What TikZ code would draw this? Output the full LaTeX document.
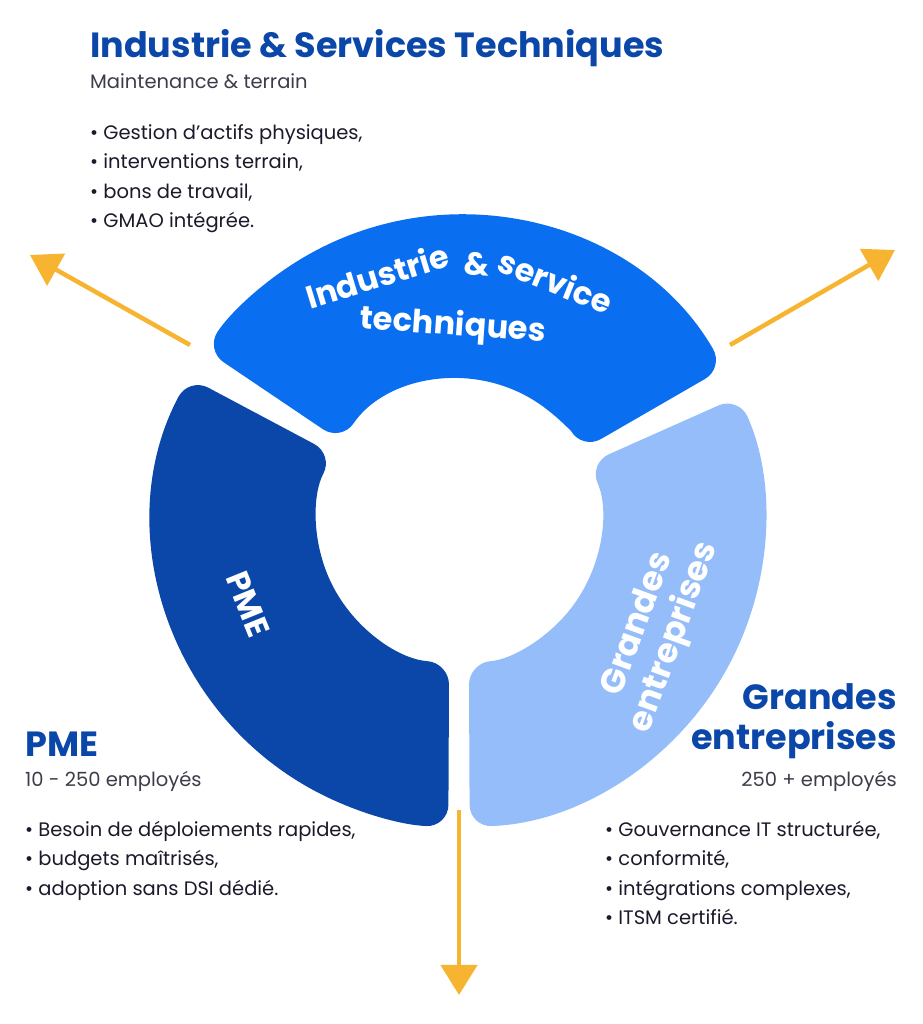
\documentclass[tikz,border=0pt]{standalone}
\usepackage{fontspec}
\setmainfont{Poppins}
\usetikzlibrary{arrows.meta,calc}
\definecolor{dblue}{HTML}{0A47A8}
\definecolor{mblue}{HTML}{0A6EF0}
\definecolor{lblue}{HTML}{94BDFA}
\definecolor{gold}{HTML}{F6B431}
\definecolor{txt}{HTML}{1A1A2A}
\begin{document}
\begin{tikzpicture}[x=1pt,y=1pt,
  seg/.style={rounded corners=22pt},
  title/.style={font=\fontsize{35}{40}\selectfont\bfseries, text=dblue, inner sep=0},
  sub/.style={font=\fontsize{19.5}{22}\selectfont, text=txt!85, inner sep=0},
  bul/.style={font=\fontsize{19.5}{29.5}\selectfont, text=txt, inner sep=0},
  ring/.style={font=\fontsize{32}{34}\selectfont\bfseries, text=white},
  word/.style={ring, anchor=base, inner sep=0},
  arr/.style={gold, line width=4.5pt, -{Triangle[width=36pt,length=30pt]}}]
\useasboundingbox (0,0) rectangle (922,1024);
\coordinate (C) at (459,503);
\def\Ro{306}\def\Ri{142}
% segments
\fill[mblue,seg] ($(C)+(30:\Ro)$) arc[start angle=30,end angle=146,radius=\Ro] -- ($(C)+(146:\Ri)$) arc[start angle=146,end angle=30,radius=\Ri] -- cycle;
\fill[dblue,seg] ($(C)+(152:\Ro)$) arc[start angle=152,end angle=268,radius=\Ro] -- ($(C)+(266:\Ri)$) arc[start angle=266,end angle=152,radius=\Ri] -- cycle;
\fill[lblue,seg] ($(C)+(-88:\Ro)$) arc[start angle=-88,end angle=24,radius=\Ro] -- ($(C)+(24:\Ri)$) arc[start angle=24,end angle=-86,radius=\Ri] -- cycle;
% ring texts
\node[word,rotate=17] (w1) at ($(C)+(108.5:246)$) {Industrie};
\node[word,rotate=-4] (w2) at ($(C)+(86:246)$) {\&};
\node[word,rotate=-22] (w3) at ($(C)+(68:246)$) {service};
\node[word,rotate=-4] (w4) at ($(C)+(92:186)$) {techniques};
\node[ring,rotate=-68] (pmering) at (248,420) {PME};
\node[ring,rotate=70,align=center,font=\fontsize{34}{39}\selectfont\bfseries] (geRing) at (657,393) {Grandes\\entreprises};
% arrows
\coordinate (a1s) at (190,679); \coordinate (a1e) at (30,769);
\coordinate (a2s) at (730,679); \coordinate (a2e) at (895,774);
\coordinate (a3s) at (459,214); \coordinate (a3e) at (459,29);
\draw[arr] (a1s) -- (a1e);
\draw[arr] (a2s) -- (a2e);
\draw[arr] (a3s) -- (a3e);
% top texts
\node[title,anchor=base west] (t1) at (90,966) {Industrie \& Services Techniques};
\node[sub,anchor=base west] (s1) at (90,935) {Maintenance \& terrain};
\node[bul,anchor=north west,align=left] (b1) at (90,900) {• Gestion d’actifs physiques,\\• interventions terrain,\\• bons de travail,\\• GMAO intégrée.};
% PME
\node[title,anchor=base west] (t2) at (25,267) {PME};
\node[sub,anchor=base west] (s2) at (25,237) {10 - 250 employés};
\node[bul,anchor=north west,align=left] (b2) at (25,203) {• Besoin de déploiements rapides,\\• budgets maîtrisés,\\• adoption sans DSI dédié.};
% Grandes entreprises
\node[title,anchor=base east] (t3a) at (897,314) {Grandes};
\node[title,anchor=base east] (t3b) at (897,274) {entreprises};
\node[sub,anchor=base east] (s3) at (897,237) {250 + employés};
\node[bul,anchor=north west,align=left] (b3) at (605,203) {• Gouvernance IT structurée,\\• conformité,\\• intégrations complexes,\\• ITSM certifié.};
\end{tikzpicture}
\end{document}
